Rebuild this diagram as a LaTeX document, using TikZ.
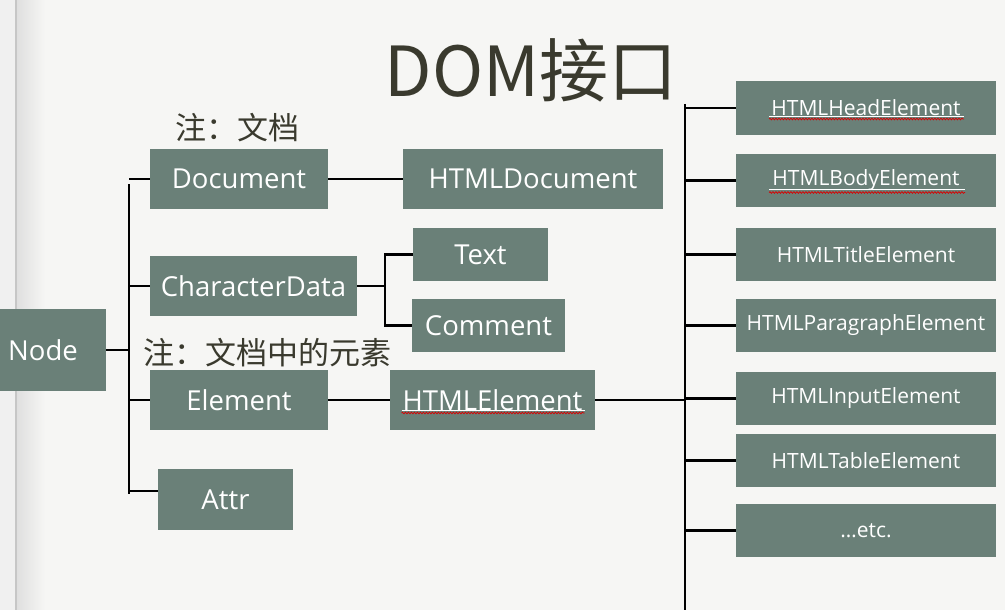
\documentclass[tikz,border=0pt]{standalone}
\usepackage{fontspec}
\setmainfont{Open Sans}
\newfontfamily\cjk{Noto Sans CJK SC}
\usetikzlibrary{decorations.pathmorphing}
\definecolor{boxc}{RGB}{106,128,120}
\definecolor{bgc}{RGB}{246,246,244}
\definecolor{inkc}{RGB}{58,58,46}
\begin{document}
\begin{tikzpicture}[x=1pt,y=-1pt,
 box/.style={fill=boxc, text=white, inner sep=0pt, font=\fontsize{27.5}{30}\selectfont},
 rbox/.style={box, minimum width=260pt, minimum height=53pt, font=\fontsize{21}{24}\selectfont},
 conn/.style={line width=2.1pt, black},
 note/.style={text=inkc, font=\cjk\fontsize{31}{34}\selectfont, inner sep=0pt},
 wavy/.style={red!85!black, line width=0.7pt, decorate, decoration={snake, amplitude=0.9pt, segment length=3pt}},
 uline/.style={white, line width=0.6pt}]
\useasboundingbox (0,0) rectangle (1005,610);
% background
\fill[bgc] (0,0) rectangle (1005,610);
\fill[gray!12] (0,0) rectangle (16,610);
\shade[left color=gray!25, right color=bgc] (17,0) rectangle (45,610);
\draw[gray!45, line width=1.2pt] (16,0) -- (16,610);

% title and notes
\node[text=inkc, font=\cjk\fontsize{69}{72}\selectfont, inner sep=0pt] (title) at (531,70) {DOM接口};
\node[note] (note1) at (237,128) {注：文档};
\node[note] (note2) at (267,353) {注：文档中的元素};

% left boxes
\node[box, minimum width=126pt, minimum height=82pt] (node) at (43,350) {Node};
\node[box, minimum width=178pt, minimum height=60pt] (doc) at (239,179) {Document};
\node[box, minimum width=207pt, minimum height=60pt] (chard) at (253.5,286) {CharacterData};
\node[box, minimum width=178pt, minimum height=60pt] (elem) at (239,400) {Element};
\node[box, minimum width=135pt, minimum height=61pt] (attr) at (225.5,499.5) {Attr};

% middle boxes
\node[box, minimum width=260pt, minimum height=60pt] (hdoc) at (533,179) {HTMLDocument};
\node[box, minimum width=135pt, minimum height=53pt] (text) at (480.5,254.5) {Text};
\node[box, minimum width=153pt, minimum height=53pt] (comm) at (488.5,325.5) {Comment};
\node[box, minimum width=205pt, minimum height=60pt] (hel) at (492.5,400) {HTMLElement};

% right boxes
\node[rbox] (head) at (866,108) {HTMLHeadElement};
\node[rbox] (body) at (866,180.5) {HTMLBodyElement};
\node[rbox] (titl) at (866,254.5) {HTMLTitleElement};
\node[rbox] (para) at (866,325.5) {HTMLParagraphElement};
\node[rbox] (inp) at (866,398.5) {HTMLInputElement};
\node[rbox] (tab) at (866,460.5) {HTMLTableElement};
\node[rbox] (etc) at (866,530.5) {…etc.};

% spelling underlines
\draw[uline] ([shift={(-91,10)}]hel.center) -- ([shift={(92,10)}]hel.center);
\draw[wavy] ([shift={(-91,13)}]hel.center) -- ([shift={(92,13)}]hel.center);
\draw[uline] ([shift={(-97,8)}]head.center) -- ([shift={(98,8)}]head.center);
\draw[wavy] ([shift={(-97,11)}]head.center) -- ([shift={(98,11)}]head.center);
\draw[uline] ([shift={(-97,9)}]body.center) -- ([shift={(99,9)}]body.center);
\draw[wavy] ([shift={(-97,12)}]body.center) -- ([shift={(99,12)}]body.center);

% left trunk
\coordinate (lt) at (129,0);
\coordinate (ltTop) at (129,184);
\coordinate (ltBot) at (129,494);
\coordinate (ab) at (129,491);
\draw[conn] (ltTop) -- (ltBot);
\draw[conn] (node.east) -- (node.east -| lt);
\foreach \n in {doc,chard,elem} \draw[conn] (\n.west -| lt) -- (\n.west);
\draw[conn] (ab) -- (attr.west |- ab);

% document
\draw[conn] (doc.east) -- (hdoc.west);
% character data bracket
\coordinate (cb) at (385,0);
\draw[conn] (chard.east) -- (chard.east -| cb);
\draw[conn] (text.west) -- (text.west -| cb) -- (comm.west -| cb) -- (comm.west);
% element
\draw[conn] (elem.east) -- (hel.west);

% right trunk
\coordinate (rt) at (685,0);
\coordinate (rtTop) at (685,104);
\coordinate (rtBot) at (685,615);
\draw[conn] (rtTop) -- (rtBot);
\draw[conn] (hel.east) -- (hel.east -| rt);
\foreach \n in {head,body,titl,para,inp,tab,etc}
  \draw[conn] (\n.west -| rt) -- (\n.west);
\end{tikzpicture}
\end{document}
